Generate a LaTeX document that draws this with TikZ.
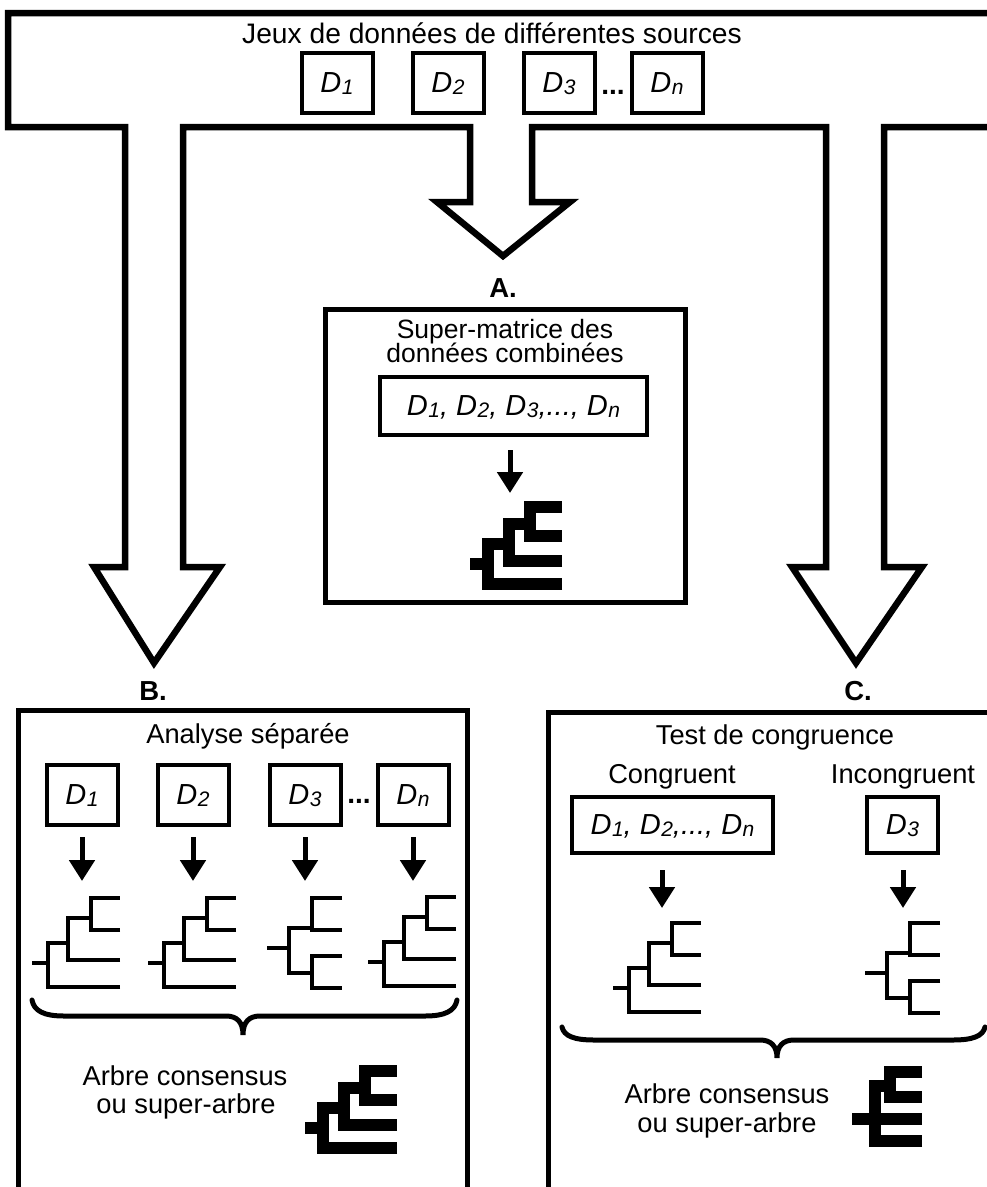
\documentclass[tikz,border=0pt]{standalone}
\usepackage{fontspec}
\setmainfont{Liberation Sans}
\usetikzlibrary{arrows.meta}
\newcommand{\Dx}[1]{\textit{D\kern0.5pt\raisebox{-0.15ex}{\fontsize{21}{21}\selectfont\itshape #1}}}
\tikzset{
  ladder/.pic={
    \draw[line join=miter] (0,0)--(16,0);
    \draw[line join=miter] (88,24)--(16,24)--(16,-20)--(36,-20);
    \draw[line join=miter] (88,-3)--(36,-3)--(36,-45)--(59,-45);
    \draw[line join=miter] (88,-33)--(59,-33)--(59,-65)--(88,-65);
  },
  balanced/.pic={
    \draw[line join=miter] (0,0)--(22,0);
    \draw[line join=miter] (45,-20)--(22,-20)--(22,25)--(45,25);
    \draw[line join=miter] (75,-50)--(45,-50)--(45,-18)--(75,-18);
    \draw[line join=miter] (75,8)--(45,8)--(45,40)--(75,40);
  },
  bladder/.pic={
    \draw[line join=miter] (0,0)--(18,0);
    \draw[line join=miter] (92,20)--(18,20)--(18,-20)--(39,-20);
    \draw[line join=miter] (92,-3)--(39,-3)--(39,-40)--(60,-40);
    \draw[line join=miter] (92,-28)--(60,-28)--(60,-57)--(92,-57);
  },
  poly/.pic={
    \draw[line join=miter] (0,0)--(70,0);
    \draw[line join=miter] (70,22)--(23,22)--(23,-33)--(38,-33);
    \draw[line join=miter] (70,-47)--(38,-47)--(38,-22)--(70,-22);
  }
}
\begin{document}
\begin{tikzpicture}[x=1pt,y=-1pt,
  bigshape/.style={line width=6.5pt, line join=miter},
  panel/.style={line width=5pt},
  dbox/.style={draw, line width=4pt, minimum width=71pt, minimum height=60pt, inner sep=0pt, text height=21pt, text depth=3pt, font=\fontsize{29}{29}\selectfont\itshape},
  lbl/.style={font=\fontsize{27.3}{27.3}\selectfont, anchor=base, inner sep=0pt},
  letter/.style={font=\bfseries\fontsize{27.5}{27.5}\selectfont, anchor=base, inner sep=0pt},
  dotsn/.style={font=\bfseries\fontsize{28}{28}\selectfont, anchor=base, inner sep=0pt},
  darr/.style={line width=5pt, -{Triangle[width=25pt,length=21pt]}},
  thintree/.style={line width=3.8pt},
  boldtree/.style={line width=12.5pt},
  bracelin/.style={line width=5pt, line cap=round}]
\useasboundingbox (0,0) rectangle (987,1187);
% big outline with three arrows
\draw[bigshape] (1010,13) -- (8,13) -- (8,127) -- (125,127) -- (125,567) -- (94,567) -- (154,663) -- (220,567) -- (183,567) -- (183,127) -- (470,127) -- (470,202) -- (437,202) -- (503,256) -- (570,202) -- (532,202) -- (532,127) -- (826,127) -- (826,567) -- (792,567) -- (856,663) -- (922,567) -- (884,567) -- (884,127) -- (1010,127);
\node[lbl, font=\fontsize{28.2}{28.2}\selectfont] (title) at (492,43) {Jeux de données de différentes sources};
\node[dbox] (t1) at (337,83) {\Dx{1}};
\node[dbox] (t2) at (448,83) {\Dx{2}};
\node[dbox] (t3) at (559,83) {\Dx{3}};
\node[dbox] (tn) at (667,83) {\Dx{n}};
\node[dotsn] (tdots) at (613,94) {...};
\node[letter] (la) at (503,297) {A.};
\node[letter] (lb) at (153,700) {B.};
\node[letter] (lc) at (858,700) {C.};
% panel A
\draw[panel] (325,309) rectangle (685,602);
\node[lbl, font=\fontsize{26.5}{26.5}\selectfont] (sm1) at (505,338) {Super-matrice des};
\node[lbl, font=\fontsize{26.5}{26.5}\selectfont] (sm2) at (505,362) {données combinées};
\node[dbox, minimum width=267pt, minimum height=58pt] (mat) at (513.5,406) {\Dx{1}, \Dx{2}, \Dx{3},..., \Dx{n}};
\coordinate (at) at (510,493);
\draw[darr, shorten <=13pt] (mat.south -| at) -- (at);
\pic[boldtree] at (470,564) {bladder};
% panel B
\draw[panel] (18,710) rectangle (467,1210);
\node[lbl] (bt) at (248,743) {Analyse séparée};
\node[dbox] (b1) at (82,795) {\Dx{1}};
\node[dbox] (b2) at (193,795) {\Dx{2}};
\node[dbox] (b3) at (305,795) {\Dx{3}};
\node[dbox] (bn) at (413,795) {\Dx{n}};
\node[dotsn] (bdots) at (359,803) {...};
\coordinate (bt1) at (82,881);
\coordinate (bt2) at (193,881);
\coordinate (bt3) at (305,881);
\coordinate (btn) at (413,881);
\draw[darr, shorten <=10pt] (b1) -- (bt1);
\draw[darr, shorten <=10pt] (b2) -- (bt2);
\draw[darr, shorten <=10pt] (b3) -- (bt3);
\draw[darr, shorten <=10pt] (bn) -- (btn);
\pic[thintree] at (32,963) {ladder};
\pic[thintree] at (148,963) {ladder};
\pic[thintree] at (267,948) {balanced};
\pic[thintree] at (368,962) {ladder};
\draw[bracelin] (32,1000) .. controls (34,1011) and (44,1016) .. (64,1016) -- (226,1016) .. controls (237,1016) and (243,1022) .. (243,1035) .. controls (243,1022) and (249,1016) .. (260,1016) -- (425,1016) .. controls (445,1016) and (455,1011) .. (457,1000);
\node[lbl] (ba1) at (185,1085) {Arbre consensus};
\node[lbl] (ba2) at (186,1113) {ou super-arbre};
\pic[boldtree] at (305,1128) {bladder};
% panel C
\draw[panel] (548,712) rectangle (1010,1210);
\node[lbl] (ct) at (775,744) {Test de congruence};
\node[lbl] (cg) at (672,783) {Congruent};
\node[lbl] (ci0) at (903,783) {Incongruent};
\node[dbox, minimum width=201pt, minimum height=56pt] (cc) at (672.5,825) {\Dx{1}, \Dx{2},..., \Dx{n}};
\node[dbox, minimum height=56pt] (ci) at (902.5,825) {\Dx{3}};
\coordinate (ct1) at (662,908);
\coordinate (ct2) at (903,908);
\draw[darr, shorten <=15pt] (cc.south -| ct1) -- (ct1);
\draw[darr, shorten <=15pt] (ci.south -| ct2) -- (ct2);
\pic[thintree] at (613,988) {ladder};
\pic[thintree] at (865,973) {balanced};
\draw[bracelin] (562,1027) .. controls (564,1036) and (574,1040) .. (594,1040) -- (760,1040) .. controls (771,1040) and (777,1046) .. (777,1058) .. controls (777,1046) and (783,1040) .. (794,1040) -- (953,1040) .. controls (973,1040) and (983,1036) .. (985,1027);
\node[lbl] (ca1) at (727,1103) {Arbre consensus};
\node[lbl] (ca2) at (727,1132) {ou super-arbre};
\pic[boldtree] at (852,1119) {poly};
\end{tikzpicture}
\end{document}
